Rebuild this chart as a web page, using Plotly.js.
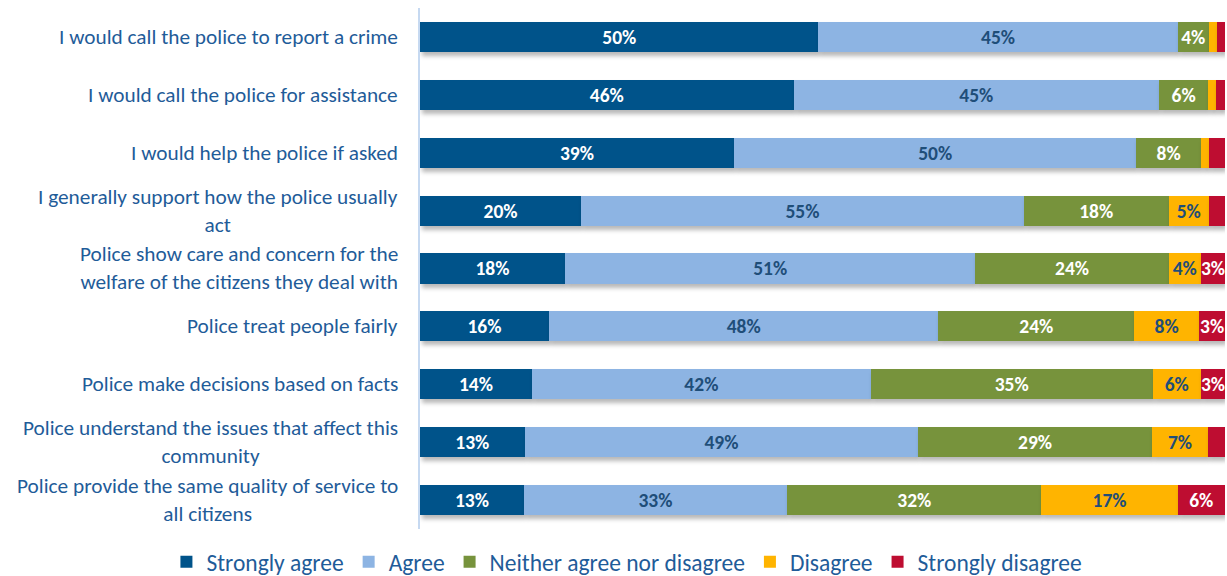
<!DOCTYPE html>
<html><head><meta charset="utf-8">
<script src="https://cdn.plot.ly/plotly-3.0.1.min.js"></script>
<style>
body{margin:0;background:#fff;}
#chart{width:1227px;height:576px;}
.trace.bars .point path{filter:drop-shadow(2px 4px 2px rgba(0,0,0,0.28));}
</style>
</head><body><div id="chart"></div>
<script>
var categories = [
  "I would call the police to report a crime",
  "I would call the police for assistance",
  "I would help the police if asked",
  "I generally support how the police usually<br>act",
  "Police show care and concern for the<br>welfare of the citizens they deal with",
  "Police treat people fairly",
  "Police make decisions based on facts",
  "Police understand the issues that affect this<br>community",
  "Police provide the same quality of service to<br>all citizens"
];
var stronglyAgree    = [49.5, 46.4, 39.0, 20.0, 18.0, 16.0, 13.9, 13.0, 12.9];
var agree            = [44.6, 45.4, 50.0, 55.0, 51.0, 48.4, 42.1, 48.9, 32.7];
var neither          = [3.9, 6.1, 8.0, 18.0, 24.0, 24.3, 35.0, 29.0, 31.6];
var disagree         = [1.0, 1.0, 1.0, 5.0, 4.0, 8.1, 6.0, 7.0, 16.9];
var stronglyDisagree = [1.0, 1.1, 2.0, 2.0, 3.0, 3.2, 3.0, 2.1, 5.9];

var seriesNames  = ["Strongly agree", "Agree", "Neither agree nor disagree", "Disagree", "Strongly disagree"];
var seriesValues = [stronglyAgree, agree, neither, disagree, stronglyDisagree];
var seriesColors = ["#00538a", "#8db4e3", "#77933c", "#ffb400", "#be0d31"];
var labelColors  = ["#ffffff", "#1f4e79", "#ffffff", "#1f4e79", "#ffffff"];

var FONT = "Carlito, Calibri, Lato, sans-serif";
var TEXTCOL = "#1f5c99";

var traces = seriesNames.map(function(name, i){
  var vals = seriesValues[i];
  return {
    type: "bar",
    orientation: "h",
    name: name,
    y: categories,
    x: vals,
    marker: {color: seriesColors[i], line: {width: 0}},
    text: vals.map(function(v){ return v >= 2.5 ? Math.round(v) + "%" : ""; }),
    textposition: "inside",
    insidetextanchor: "middle",
    textangle: 0,
    constraintext: "none",
    insidetextfont: {family: FONT, size: 19.5, color: labelColors[i], weight: "bold"},
    hoverinfo: "name+x"
  };
});

var annotations = categories.map(function(c){
  return {
    xref: "paper", yref: "y",
    x: 0, y: c,
    xshift: -20,
    xanchor: "right", yanchor: "middle",
    align: "center",
    text: c,
    showarrow: false,
    font: {family: FONT, size: 21.3, color: TEXTCOL}
  };
});

var layout = {
  width: 1227, height: 576,
  margin: {l: 420, r: 2, t: 8, b: 47, autoexpand: false},
  barmode: "stack",
  bargap: 0.48,
  paper_bgcolor: "#ffffff",
  plot_bgcolor: "#ffffff",
  font: {family: FONT, color: TEXTCOL},
  xaxis: {range: [0, 100], showgrid: false, zeroline: false, showticklabels: false, ticks: "", fixedrange: true},
  yaxis: {autorange: "reversed", showticklabels: false, ticks: "", showgrid: false, zeroline: false,
          showline: true, linecolor: "#c6d9f1", linewidth: 2, fixedrange: true},
  showlegend: true,
  legend: {orientation: "h", xref: "paper", x: -0.315, xanchor: "left", yref: "paper", y: -0.021, yanchor: "top",
           font: {family: FONT, size: 23.5, color: TEXTCOL}, traceorder: "normal", itemclick: false, itemwidth: 30},
  annotations: annotations
};

Plotly.newPlot("chart", traces, layout, {displayModeBar: false});
</script>
</body></html>
